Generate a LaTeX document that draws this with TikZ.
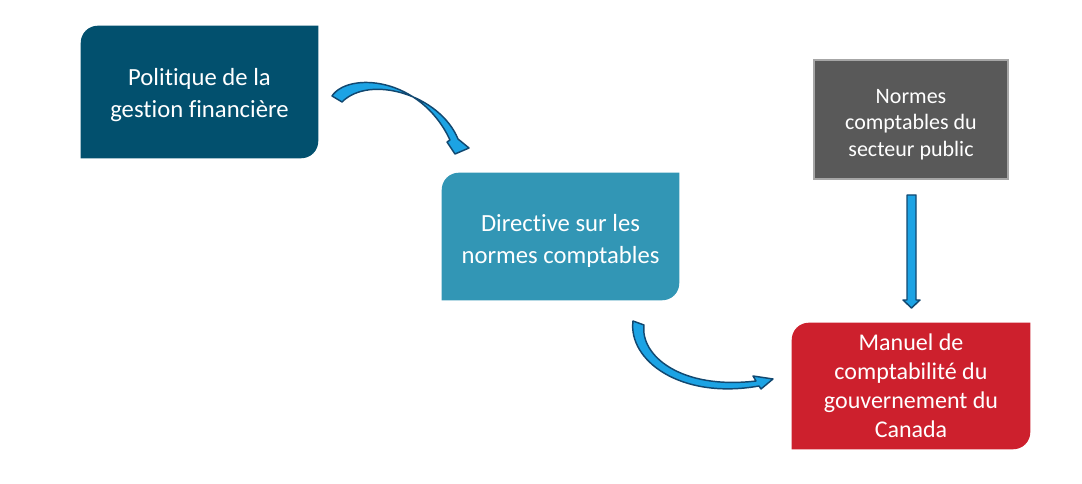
\documentclass[tikz,border=0pt]{standalone}
\usepackage{fontspec}
\setmainfont{Carlito}[Ligatures=NoCommon]
\usepackage{tikz}
\usetikzlibrary{backgrounds}
\definecolor{polblue}{RGB}{2,80,110}
\definecolor{dirblue}{RGB}{50,150,181}
\definecolor{manred}{RGB}{205,32,45}
\definecolor{normgrey}{RGB}{89,89,89}
\definecolor{normedge}{RGB}{166,166,166}
\definecolor{arrfill}{RGB}{28,163,228}
\definecolor{arredge}{RGB}{18,72,112}
\newlength\boxrad
\setlength\boxrad{12.75pt}
\newcommand{\cornerbox}[2]{%
  \fill[#2](#1.south west)--([yshift=-\boxrad]#1.north west)
    arc[start angle=180,end angle=90,radius=\boxrad]--(#1.north east)
    --([yshift=\boxrad]#1.south east)
    arc[start angle=0,end angle=-90,radius=\boxrad]--cycle;}
\newcommand{\padtop}[1]{\rule{0pt}{#1}}
\tikzset{box/.style={text=white,align=center,inner sep=0pt,font=\fontsize{18.5}{24}\selectfont},
  blockarrow/.style={fill=arrfill,draw=arredge,line width=1.1pt,line join=round}}

\begin{document}
\begin{tikzpicture}[x=0.75pt,y=0.75pt]
		\useasboundingbox(0,0)rectangle(1082,484);
		\node[box,minimum width=177.75pt,minimum height=99pt](pol)at(199.5,392){\padtop{17.5pt}Politique de la\\gestion financière};
		\node[box,minimum width=177.75pt,minimum height=95.25pt](dir)at(560.5,247.5){\padtop{19pt}Directive sur les\\normes comptables};
		\node[box,minimum width=178.5pt,minimum height=94.5pt,font=\fontsize{18}{21.75}\selectfont](man)at(911,98){Manuel de\\comptabilité du\\gouvernement du\\Canada};
		\node[box,minimum width=146pt,minimum height=89.75pt,fill=normgrey,draw=normedge,line width=1.5pt,font=\fontsize{16.5}{19.9}\selectfont](nor)at(911,364.5){\padtop{18pt}Normes\\comptables du\\secteur public};
		\begin{scope}[on background layer]
			\cornerbox{pol}{polblue}
			\cornerbox{dir}{dirblue}
			\cornerbox{man}{manred}
		\end{scope}
		\draw[blockarrow](332,388)..controls(348,412)and(420,408)..(450,344)--(447,342)--(455,330)--(469,336)--(458,345)..controls(440,389)and(370,410)..(342,382)--cycle;
		\draw[blockarrow](633,163)..controls(628,124)and(680,84)..(759,98)--(761,95)--(773,105)--(753,108)--(756,103)..controls(680,94)and(640,129)..(644,159)--cycle;
		\draw[blockarrow](907,289)--(916,289)--(916,184)--(920,184)--(911.5,176)--(903,184)--(907,184)--cycle;
	\end{tikzpicture}
\end{document}
